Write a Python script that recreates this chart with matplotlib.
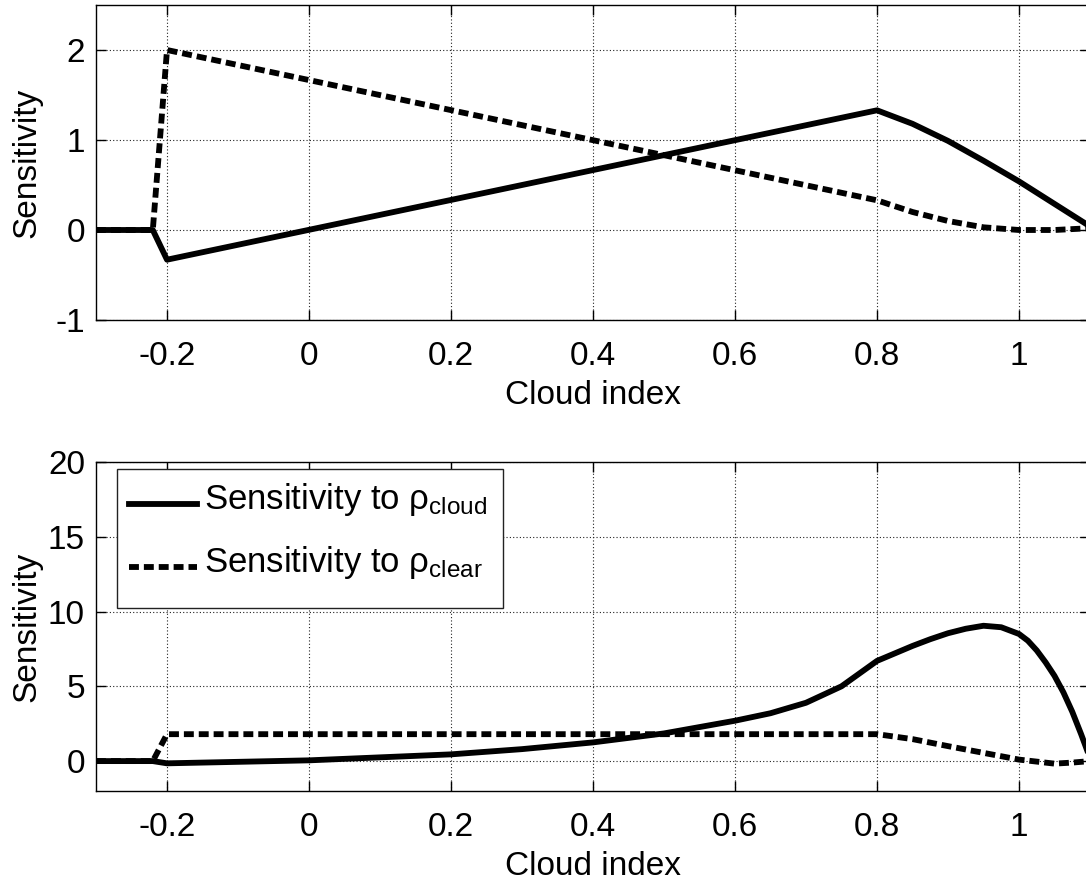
import matplotlib
matplotlib.use('Agg')
import matplotlib.pyplot as plt
from matplotlib.legend_handler import HandlerLine2D
from matplotlib.patches import Rectangle
import numpy as np

# общий стиль в духе MATLAB
plt.rcParams['font.family'] = ['Liberation Sans', 'DejaVu Sans']
plt.rcParams['mathtext.fontset'] = 'custom'
plt.rcParams['mathtext.rm'] = 'Liberation Sans'
plt.rcParams['mathtext.it'] = 'Liberation Sans'
plt.rcParams['axes.unicode_minus'] = False
plt.rcParams['font.size'] = 24

# верхняя панель
x_top_cloud = [-0.3, -0.22, -0.2, 0.8, 0.85, 0.9, 0.95, 1.0, 1.05, 1.1]
s_top_cloud = [0.0, 0.0, -0.33, 1.33, 1.18, 0.99, 0.77, 0.54, 0.29, 0.04]
x_top_clear = [-0.3, -0.22, -0.2, 0.8, 0.85, 0.9, 0.95, 1.0, 1.05, 1.1]
s_top_clear = [0.0, 0.0, 2.0, 0.33, 0.2, 0.1, 0.03, 0.0, 0.0, 0.02]

# нижняя панель
x_bot_cloud = [-0.3, -0.22, -0.2, 0.0, 0.2, 0.3, 0.4, 0.5, 0.6, 0.65, 0.7, 0.75,
               0.8, 0.85, 0.875, 0.9, 0.925, 0.95, 0.975, 1.0, 1.0125, 1.025,
               1.0375, 1.05, 1.0625, 1.075, 1.0875, 1.1]
s_bot_cloud = [0.0, 0.0, -0.15, 0.05, 0.45, 0.8, 1.25, 1.85, 2.7, 3.2, 3.9, 5.0,
               6.7, 7.7, 8.15, 8.55, 8.85, 9.05, 8.95, 8.5, 8.05, 7.4,
               6.6, 5.7, 4.6, 3.3, 1.8, 0.2]
x_bot_clear = [-0.3, -0.22, -0.2, 0.8, 0.85, 0.9, 0.95, 1.0, 1.05, 1.075, 1.1]
s_bot_clear = [0.0, 0.0, 1.8, 1.8, 1.47, 1.0, 0.55, 0.1, -0.17, -0.1, 0.0]

xticks = [-0.2, 0, 0.2, 0.4, 0.6, 0.8, 1]
xticklabels = ['-0.2', '0', '0.2', '0.4', '0.6', '0.8', '1']
yticks_top = [-1, 0, 1, 2]
yticks_bot = [0, 5, 10, 15, 20]

labels = [r'Sensitivity to ρ$_{\mathrm{cloud}}$', r'Sensitivity to ρ$_{\mathrm{clear}}$']

W, H = 1086, 886
AX_L, AX_R = 96, 1090
fig = plt.figure(figsize=(W / 100, H / 100), dpi=100)
ax1 = fig.add_axes([AX_L / W, 1 - 320 / H, (AX_R - AX_L) / W, (320 - 5) / H])
ax2 = fig.add_axes([AX_L / W, 1 - 791 / H, (AX_R - AX_L) / W, (791 - 462) / H])

solid = dict(color='black', lw=4.2, solid_joinstyle='round')
dashed = dict(color='black', lw=4.2, linestyle=(0, (1.7, 0.85)), dash_capstyle='butt')


def style_axes(ax, ylim, yticks):
    ax.set_xlim(-0.3, 1.1)
    ax.set_ylim(*ylim)
    ax.set_xticks(xticks)
    ax.set_xticklabels(xticklabels)
    ax.set_yticks(yticks)
    ax.tick_params(axis='x', direction='in', length=7, width=1, top=True, pad=15)
    ax.tick_params(axis='y', direction='in', length=7, width=1, right=True, pad=8)
    ax.grid(True, linestyle=(0, (1, 2)), color='#222222', linewidth=0.8)
    for sp in ax.spines.values():
        sp.set_linewidth(1)
    ax.set_xlabel('Cloud index', labelpad=6)
    ax.set_ylabel('Sensitivity')
    # подпись Y на одном и том же месте в обеих панелях
    ax.yaxis.set_label_coords((42 - AX_L) / (AX_R - AX_L), 0.5)


class BaselineHandler(HandlerLine2D):
    # как в MATLAB: линия в легенде на уровне базовой линии текста
    def create_artists(self, legend, orig_handle, xdescent, ydescent,
                       width, height, fontsize, trans):
        arts = super().create_artists(legend, orig_handle, xdescent, ydescent,
                                      width, height, fontsize, trans)
        for a in arts:
            a.set_ydata(np.asarray(a.get_ydata()) - 0.3 * height)
        return arts


ax1.plot(x_top_clear, s_top_clear, **dashed)
ax1.plot(x_top_cloud, s_top_cloud, **solid)
style_axes(ax1, (-1, 2.5), yticks_top)

l1, = ax2.plot(x_bot_cloud, s_bot_cloud, **solid)
l2, = ax2.plot(x_bot_clear, s_bot_clear, **dashed)
style_axes(ax2, (-2, 20), yticks_bot)

# рамка легенды отдельно (в MATLAB она несимметрична по высоте)
box_l = (117 - AX_L) / (AX_R - AX_L)
box_r = (503 - AX_L) / (AX_R - AX_L)
box_t = (791 - 469) / (791 - 462)
box_b = (791 - 608) / (791 - 462)
ax2.add_patch(Rectangle((box_l, box_b), box_r - box_l, box_t - box_b,
                        transform=ax2.transAxes, facecolor='white',
                        edgecolor='#222222', lw=1, zorder=4))

leg = ax2.legend([l1, l2], labels, loc='upper left',
                 bbox_to_anchor=(box_l, box_t), frameon=False,
                 borderaxespad=0, borderpad=0.35,
                 handlelength=1.95, handletextpad=0.2, labelspacing=0.75,
                 fontsize=25, handler_map={l1: BaselineHandler(), l2: BaselineHandler()})
leg.set_zorder(5)

fig.savefig('out.png', dpi=100)
